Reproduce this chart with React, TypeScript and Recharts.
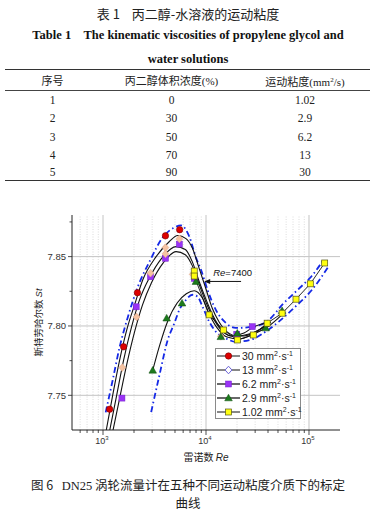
import React from 'react';
import { ComposedChart, Line, Scatter, XAxis, YAxis, ReferenceLine, Label } from 'recharts';

// Table 1
const tableSeq = ['1', '2', '3', '4', '5'];
const tableConc = ['0', '30', '50', '70', '90'];
const tableVisc = ['1.02', '2.9', '6.2', '13', '30'];

// Fig. 6 legend order
const viscLabels = ['30', '13', '6.2', '2.9', '1.02'];

// measured points [Re, St]
const pts30 = [[1160, 7.74], [1585, 7.785], [2160, 7.824], [4040, 7.865], [5550, 7.8694]];
const pts13 = [[1540, 7.77], [2120, 7.8065], [2890, 7.838], [4040, 7.8565], [4040, 7.852], [5510, 7.8628], [7420, 7.8372], [13930, 7.7925]];
const pts62 = [[1527, 7.748], [2100, 7.8138], [2890, 7.8355], [4040, 7.8488], [5510, 7.859], [7690, 7.8343], [19900, 7.794], [28100, 7.7995]];
const pts29 = [[3040, 7.768], [4150, 7.8056], [5850, 7.8164], [7980, 7.832], [13930, 7.7922], [20140, 7.7947], [38000, 7.7985], [54800, 7.811]];
const pts102 = [[7690, 7.8396], [7690, 7.836], [10720, 7.808], [14760, 7.7971], [20140, 7.7899], [28780, 7.7935], [39240, 7.802], [54800, 7.8092], [74800, 7.8193], [103000, 7.8304], [142000, 7.8454]];

// fitted curves [Re, St]
const fit30 = [[1074, 7.7246], [1241, 7.75], [1450, 7.7754], [1732, 7.7993], [2025, 7.8152], [2435, 7.8333], [3281, 7.85], [4411, 7.8609], [5303, 7.8652], [6394, 7.863], [7406, 7.8558], [8598, 7.8413], [9977, 7.8268], [11480, 7.813], [13410, 7.8029], [16030, 7.7957], [20010, 7.7928], [26150, 7.7942], [34140, 7.7978], [42660, 7.8029]];
const fit13 = [[1161, 7.7246], [1357, 7.75], [1585, 7.7754], [1894, 7.7993], [2263, 7.8188], [2827, 7.8348], [3692, 7.8486], [5120, 7.8572], [6295, 7.8551], [7357, 7.8464], [8598, 7.8319], [10040, 7.8188], [11740, 7.8072], [14030, 7.7978], [17520, 7.7928], [23390, 7.7928], [31230, 7.7964], [40800, 7.8022]];
const fit62 = [[1249, 7.7246], [1450, 7.7478], [1694, 7.7717], [2025, 7.7957], [2419, 7.8152], [2955, 7.8312], [3860, 7.8457], [5120, 7.8536], [6295, 7.8514], [7357, 7.8435], [8598, 7.8297], [10040, 7.8167], [11740, 7.8058], [14030, 7.7971], [17520, 7.7928], [23390, 7.7949], [28900, 7.7993], [38590, 7.8022]];
const fit29 = [[3041, 7.7681], [3530, 7.7855], [4219, 7.8029], [5268, 7.8167], [6437, 7.8232], [7691, 7.8254], [9191, 7.8203], [10740, 7.8087], [12830, 7.7986], [16030, 7.792], [20930, 7.7906], [28900, 7.7942], [40800, 7.8], [54470, 7.808]];

// error band (blue dash-dot)
const bandUpper = [[1062, 7.7377], [1241, 7.7609], [1450, 7.7848], [1744, 7.8065], [2179, 7.8283], [2827, 7.8464], [3799, 7.8638], [4931, 7.871], [5722, 7.8725], [6880, 7.8645], [7988, 7.8493], [8925, 7.8406], [10340, 7.8261], [12460, 7.8116], [15570, 7.8022], [19450, 7.7986], [26150, 7.7991], [31450, 7.8], [40800, 7.8043], [54840, 7.8152], [79550, 7.8268], [106900, 7.8362], [138700, 7.8478]];
const bandLower = [[2935, 7.7379], [3530, 7.7645], [4246, 7.7899], [4931, 7.802], [5510, 7.8116], [6394, 7.8188], [7406, 7.8225], [8277, 7.8212], [9252, 7.814], [10740, 7.8031], [12460, 7.7959], [15570, 7.7911], [19450, 7.7886], [28140, 7.7904], [37900, 7.7959], [50950, 7.8031], [73890, 7.814], [106900, 7.8261], [155000, 7.843]];

const xMajor = [1000, 10000, 100000];
const xMinor = [600, 700, 800, 900, 2000, 3000, 4000, 5000, 6000, 7000, 8000, 9000, 20000, 30000, 40000, 50000, 60000, 70000, 80000, 90000];
const yMajor = [7.75, 7.8, 7.85];
const yMinor = [7.775, 7.825, 7.875];

const xTicks = [...xMinor, ...xMajor].sort((a, b) => a - b);
const yTicks = [...yMajor, ...yMinor].sort((a, b) => a - b);

const toXY = (a: number[][]) => a.map(([x, y]) => ({ x, y }));

const SANS = '"Liberation Sans", Arial, sans-serif';
const CJK = '"Noto Sans CJK SC", sans-serif';
const SERIF = '"Liberation Serif", "Times New Roman", serif';
const BLUE = '#1428e6';

type MarkerKind = 'circle' | 'diamond' | 'square' | 'triangle' | 'ysquare';

function Marker({ kind, cx, cy, legend }: { kind: MarkerKind; cx: number; cy: number; legend?: boolean }) {
  if (kind === 'circle') return <circle cx={cx} cy={cy} r={3.2} fill="#dd0000" stroke="#7a0000" strokeWidth={0.6} />;
  if (kind === 'diamond')
    return (
      <path
        d={`M${cx},${cy - 3.8} L${cx + 3.4},${cy} L${cx},${cy + 3.8} L${cx - 3.4},${cy} Z`}
        fill={legend ? '#fff' : '#f5c3a2'}
        stroke={legend ? '#6c64d8' : '#e2a888'}
        strokeWidth={legend ? 1 : 0.6}
      />
    );
  if (kind === 'square') return <rect x={cx - 3} y={cy - 3} width={6} height={6} fill="#9a33f5" stroke="#7420cc" strokeWidth={0.5} />;
  if (kind === 'triangle')
    return <path d={`M${cx},${cy - 3.8} L${cx + 3.8},${cy + 2.8} L${cx - 3.8},${cy + 2.8} Z`} fill="#1c7a1c" stroke="#0c4a0c" strokeWidth={0.5} />;
  return <rect x={cx - 3} y={cy - 3} width={6} height={6} fill="#ffff10" stroke="#55551a" strokeWidth={0.7} />;
}

const markerKinds: MarkerKind[] = ['circle', 'diamond', 'square', 'triangle', 'ysquare'];

const shapeOf = (kind: MarkerKind) => (p: any) => <Marker kind={kind} cx={p.cx} cy={p.cy} />;

function XTick(props: any) {
  const { x, y, payload } = props;
  const v = payload.value;
  const major = xMajor.includes(v);
  return (
    <g>
      <line x1={x} x2={x} y1={y} y2={y + (major ? 5 : 3)} stroke="#222" strokeWidth={0.8} />
      {major && (
        <text x={x - 1} y={y + 14} textAnchor="middle" fontSize={9} fontFamily={SANS} fill="#333">
          10
          <tspan dy={-4} fontSize={6}>
            {Math.round(Math.log10(v))}
          </tspan>
        </text>
      )}
    </g>
  );
}

function YTick(props: any) {
  const { x, y, payload } = props;
  const v = payload.value;
  const major = yMajor.includes(v);
  return (
    <g>
      <line x1={x - (major ? 4 : 2.5)} x2={x} y1={y} y2={y} stroke="#222" strokeWidth={0.8} />
      {major && (
        <text x={x - 6} y={y + 3.5} textAnchor="end" fontSize={9.5} fontFamily={SANS} fill="#333">
          {v.toFixed(2)}
        </text>
      )}
    </g>
  );
}

function RTick(props: any) {
  const { x, y, payload } = props;
  const major = yMajor.includes(payload.value);
  return <line x1={x} x2={x + (major ? 4 : 2.5)} y1={y} y2={y} stroke="#222" strokeWidth={0.8} />;
}

const yLabel = (p: any) => {
  const vb = p.viewBox;
  const cy = vb.y + vb.height / 2;
  return (
    <text x={42} y={cy} transform={`rotate(-90 42 ${cy})`} textAnchor="middle" fontSize={9.5} fill="#222" fontFamily={CJK}>
      斯特劳哈尔数 <tspan fontFamily={SANS} fontStyle="italic">St</tspan>
    </text>
  );
};

const xLabel = (p: any) => {
  const vb = p.viewBox;
  return (
    <text x={vb.x + vb.width / 2} y={vb.y + 31} textAnchor="middle" fontSize={10} fill="#222" fontFamily={CJK}>
      雷诺数 <tspan fontFamily={SANS} fontStyle="italic">Re</tspan>
    </text>
  );
};

const arrowShape = (p: any) => {
  const { x1, y1, x2, y2 } = p;
  return (
    <g>
      <line x1={x1} y1={y1} x2={x2 + 5} y2={y2} stroke="#111" strokeWidth={1} />
      <path d={`M${x2},${y2} L${x2 + 6},${y2 - 2.5} L${x2 + 6},${y2 + 2.5} Z`} fill="#111" />
      <text x={x2 + 9} y={y2 - 5.5} fontSize={9.5} fontFamily={SANS} fill="#111">
        <tspan fontStyle="italic">Re</tspan>=7400
      </text>
    </g>
  );
};

function LegendBox() {
  return (
    <div
      style={{
        position: 'absolute',
        left: 215,
        top: 348,
        width: 86,
        height: 71,
        border: '1px solid #8a8a8a',
        background: '#fff',
        boxSizing: 'border-box',
        fontFamily: SANS,
        fontSize: 10.5,
        color: '#222',
      }}
    >
      {viscLabels.map((lab, i) => (
        <div key={lab} style={{ position: 'absolute', left: 0, top: 0.5 + i * 13.9, height: 13.9, display: 'flex', alignItems: 'center', whiteSpace: 'nowrap' }}>
          <svg width={26} height={14} style={{ display: 'block' }}>
            <line x1={1} x2={24} y1={7} y2={7} stroke={i === 2 || i === 3 ? '#444' : '#111'} strokeWidth={i === 2 || i === 3 ? 1.6 : 1} />
            <Marker kind={markerKinds[i]} cx={12.5} cy={7} legend />
          </svg>
          <span>
            {lab} mm<sup style={{ fontSize: 7, verticalAlign: 4 }}>2</sup>·s<sup style={{ fontSize: 7, verticalAlign: 4 }}>-1</sup>
          </span>
        </div>
      ))}
    </div>
  );
}

function Chart() {
  const fitStyle = { stroke: '#111', strokeWidth: 1.1 };
  return (
    <ComposedChart width={376} height={280} margin={{ top: 20, right: 36, bottom: 0, left: 0 }}>
      <XAxis
        dataKey="x"
        type="number"
        scale="log"
        domain={[500, 200000]}
        allowDataOverflow
        ticks={xTicks}
        interval={0}
        tick={<XTick />}
        tickLine={false}
        tickSize={0}
        tickMargin={0}
        height={45}
        axisLine={{ stroke: '#222' }}
      >
        <Label content={xLabel} />
      </XAxis>
      <XAxis xAxisId="top" orientation="top" type="number" scale="log" domain={[500, 200000]} allowDataOverflow height={0} tick={false} tickLine={false} axisLine={{ stroke: '#222' }} />
      <YAxis
        dataKey="y"
        type="number"
        domain={[7.725, 7.88]}
        allowDataOverflow
        ticks={yTicks}
        interval={0}
        tick={<YTick />}
        tickLine={false}
        tickSize={0}
        tickMargin={0}
        width={72}
        axisLine={{ stroke: '#222' }}
      >
        <Label content={yLabel} />
      </YAxis>
      <YAxis
        yAxisId="r"
        orientation="right"
        type="number"
        domain={[7.725, 7.88]}
        allowDataOverflow
        ticks={yTicks}
        interval={0}
        tick={<RTick />}
        tickLine={false}
        tickSize={0}
        tickMargin={0}
        width={0}
        axisLine={{ stroke: '#222' }}
      />

      {xMinor.map((v) => (
        <ReferenceLine key={'xm' + v} x={v} stroke="#cfcfcf" strokeWidth={0.7} strokeDasharray="1 1.5" />
      ))}
      {xMajor.map((v) => (
        <ReferenceLine key={'xM' + v} x={v} stroke="#c4c4c4" strokeWidth={1} />
      ))}
      {yMajor.map((v) => (
        <ReferenceLine key={'yM' + v} y={v} stroke="#c4c4c4" strokeWidth={1} />
      ))}

      <Line data={toXY(bandUpper)} dataKey="y" type="monotone" stroke={BLUE} strokeWidth={1.8} strokeDasharray="6 3 1.5 3" dot={false} isAnimationActive={false} />
      <Line data={toXY(bandLower)} dataKey="y" type="monotone" stroke={BLUE} strokeWidth={1.8} strokeDasharray="6 3 1.5 3" dot={false} isAnimationActive={false} />

      <Line data={toXY(fit30)} dataKey="y" type="monotone" {...fitStyle} dot={false} isAnimationActive={false} />
      <Line data={toXY(fit13)} dataKey="y" type="monotone" {...fitStyle} dot={false} isAnimationActive={false} />
      <Line data={toXY(fit62)} dataKey="y" type="monotone" {...fitStyle} dot={false} isAnimationActive={false} />
      <Line data={toXY(fit29)} dataKey="y" type="monotone" {...fitStyle} dot={false} isAnimationActive={false} />
      <Line data={toXY(pts102)} dataKey="y" type="linear" stroke="#111" strokeWidth={0.9} dot={false} isAnimationActive={false} />

      <Scatter data={toXY(pts62)} shape={shapeOf('square')} isAnimationActive={false} />
      <Scatter data={toXY(pts13)} shape={shapeOf('diamond')} isAnimationActive={false} />
      <Scatter data={toXY(pts30)} shape={shapeOf('circle')} isAnimationActive={false} />
      <Scatter data={toXY(pts29)} shape={shapeOf('triangle')} isAnimationActive={false} />
      <Scatter data={toXY(pts102)} shape={shapeOf('ysquare')} isAnimationActive={false} />

      <ReferenceLine
        segment={[
          { x: 21900, y: 7.8321 },
          { x: 9600, y: 7.8321 },
        ]}
        shape={arrowShape}
      />
    </ComposedChart>
  );
}

const rowTops = [100, 118.3, 136.5, 154.5, 172.3];
const colCenters = [52.5, 171.5, 305];

export default function App() {
  const cell = (text: React.ReactNode, cx: number, cy: number, font: string, size: number, key?: string) => (
    <div
      key={key}
      style={{ position: 'absolute', left: cx - 80, width: 160, top: cy - 8, height: 16, lineHeight: '16px', textAlign: 'center', fontFamily: font, fontSize: size, color: '#222', whiteSpace: 'nowrap' }}
    >
      {text}
    </div>
  );
  return (
    <div style={{ position: 'absolute', left: 0, top: 0, width: 376, height: 524, background: '#fff', overflow: 'hidden' }}>
      <div style={{ position: 'absolute', top: 5, left: 0, width: 376, textAlign: 'center', lineHeight: '17px', fontFamily: CJK, fontSize: 13, color: '#222', whiteSpace: 'pre' }}>
        表 1{'    '}丙二醇-水溶液的运动粘度
      </div>
      <div style={{ position: 'absolute', top: 27, left: 0, width: 376, textAlign: 'center', lineHeight: '16px', fontFamily: SERIF, fontWeight: 'bold', fontSize: 12.5, color: '#111', whiteSpace: 'pre' }}>
        Table 1{'    '}The kinematic viscosities of propylene glycol and
      </div>
      <div style={{ position: 'absolute', top: 51, left: 0, width: 376, textAlign: 'center', lineHeight: '16px', fontFamily: SERIF, fontWeight: 'bold', fontSize: 12.5, color: '#111' }}>
        water solutions
      </div>

      <div style={{ position: 'absolute', left: 5, width: 365, top: 69, height: 0, borderTop: '1.6px solid #333' }} />
      <div style={{ position: 'absolute', left: 5, width: 365, top: 90, height: 0, borderTop: '0.8px solid #444' }} />
      <div style={{ position: 'absolute', left: 5, width: 365, top: 179.5, height: 0, borderTop: '1.8px solid #333' }} />

      {cell('序号', colCenters[0], 80, CJK, 11)}
      {cell(<span>丙二醇体积浓度<span style={{ fontFamily: SERIF }}>(%)</span></span>, colCenters[1], 80, CJK, 11)}
      {cell(
        <span>
          运动粘度<span style={{ fontFamily: SERIF }}>(mm<sup style={{ fontSize: 7, verticalAlign: 4 }}>2</sup>/s)</span>
        </span>,
        colCenters[2],
        80,
        CJK,
        11
      )}
      {tableSeq.map((s, i) => cell(s, colCenters[0], rowTops[i], SERIF, 11.5, 's' + i))}
      {tableConc.map((s, i) => cell(s, colCenters[1], rowTops[i], SERIF, 11.5, 'c' + i))}
      {tableVisc.map((s, i) => cell(s, colCenters[2], rowTops[i], SERIF, 11.5, 'v' + i))}

      <div style={{ position: 'absolute', left: 0, top: 195, width: 376, height: 280 }}>
        <Chart />
      </div>
      <LegendBox />

      <div style={{ position: 'absolute', top: 476, left: 0, width: 376, textAlign: 'center', lineHeight: '18px', fontFamily: CJK, fontSize: 12.5, color: '#222', whiteSpace: 'pre' }}>
        图 6{'   '}<span style={{ fontFamily: SERIF }}>DN25</span> 涡轮流量计在五种不同运动粘度介质下的标定
      </div>
      <div style={{ position: 'absolute', top: 494, left: 0, width: 376, textAlign: 'center', lineHeight: '18px', fontFamily: CJK, fontSize: 12.5, color: '#222' }}>
        曲线
      </div>
    </div>
  );
}
